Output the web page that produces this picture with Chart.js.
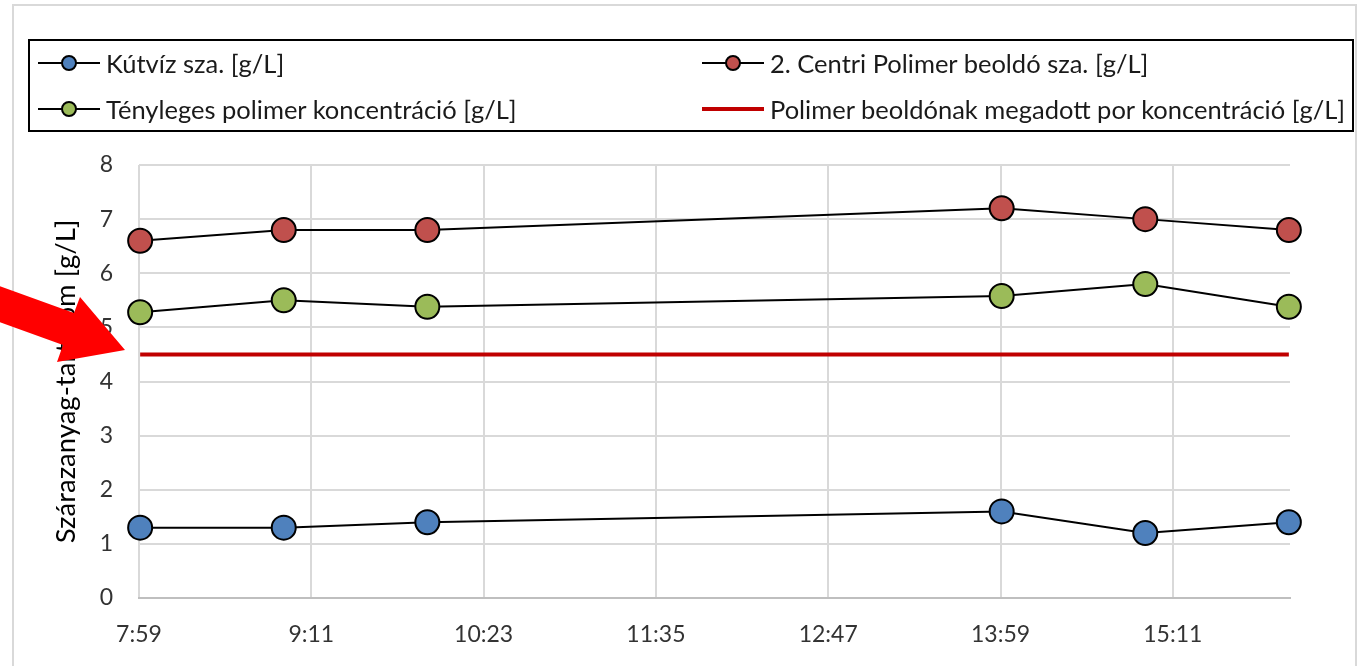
<!DOCTYPE html>
<html>
<head>
<meta charset="utf-8">
<script src="https://cdn.jsdelivr.net/npm/chart.js@4.4.1/dist/chart.umd.min.js"></script>
<style>
    html, body { margin: 0; padding: 0; background: #fff; }
    body { width: 1363px; height: 666px; position: relative; overflow: hidden; font-family: Lato, "Open Sans", sans-serif; }
    #frame { position: absolute; left: 12px; top: 4px; width: 1345px; height: 720px; border: 2px solid #d9d9d9; box-sizing: border-box; }
    #wrap { position: absolute; left: 0; top: 0; width: 1363px; height: 666px; }
    #legend { position: absolute; left: 28px; top: 39px; width: 1326px; height: 93px; border: 2px solid #000; box-sizing: border-box; }
    .item { position: absolute; height: 30px; display: flex; align-items: center; font-size: 25.5px; color: #1a1a1a; white-space: nowrap; }
    .marker { position: relative; width: 62px; height: 30px; margin-right: 6px; flex: none; }
    .marker .ln { position: absolute; left: 0; right: 0; top: 14px; height: 2px; background: #000; }
    .marker .ln.thick { top: 13px; height: 4px; background: #c00000; }
    .marker .dot { position: absolute; left: 23px; top: 7px; width: 12px; height: 12px; border: 2px solid #000; border-radius: 50%; }
    #arrow { position: absolute; left: 0; top: 0; }
</style>
</head>
<body>
<div id="frame"></div>
<div id="wrap"><canvas id="chart"></canvas></div>
<div id="legend"></div>
<svg id="arrow" width="200" height="420">
    <polygon points="-20,279 74,313 80,297 125,350 57,362 63,345 -31,311" fill="#ff0000"/>
</svg>
<script>
// mintavétel időpontjai
const times = ["8:00", "9:00", "10:00", "14:00", "15:00", "16:00"];

const kutviz = [1.3, 1.3, 1.4, 1.6, 1.2, 1.4];
const centri = [6.6, 6.8, 6.8, 7.2, 7.0, 6.8];
const tenyleges = [5.28, 5.5, 5.38, 5.58, 5.8, 5.38];
const megadott = [4.5, 4.5, 4.5, 4.5, 4.5, 4.5];

const seriesNames = [
    "Kútvíz sza. [g/L]",
    "2. Centri Polimer beoldó sza. [g/L]",
    "Tényleges polimer koncentráció [g/L]",
    "Polimer beoldónak megadott por koncentráció [g/L]"
];

const xTickLabels = ["7:59", "9:11", "10:23", "11:35", "12:47", "13:59", "15:11"];
const yTickLabels = ["0", "1", "2", "3", "4", "5", "6", "7", "8"];

// Excel-féle napi tört tengelyhatárok (0.333 - 0.667 nap), 72 perces lépés
const xMin = 0.333 * 1440;
const xMax = 0.667 * 1440;
const xStep = 72;

function toMinutes(t) {
    const [h, m] = t.split(":").map(Number);
    return h * 60 + m;
}

function points(values) {
    return values.map((v, i) => ({ x: toMinutes(times[i]), y: v }));
}

const colors = { blue: "#4f81bd", red: "#c0504d", green: "#9bbb59", target: "#c00000" };

function markerSeries(label, values, fill) {
    return {
        label: label,
        data: points(values),
        borderColor: "#000",
        borderWidth: 2,
        pointRadius: 12,
        pointHoverRadius: 12,
        pointBackgroundColor: fill,
        pointBorderColor: "#000",
        pointBorderWidth: 2,
        tension: 0,
        clip: false
    };
}

const datasets = [
    markerSeries(seriesNames[0], kutviz, colors.blue),
    markerSeries(seriesNames[1], centri, colors.red),
    markerSeries(seriesNames[2], tenyleges, colors.green),
    {
        label: seriesNames[3],
        data: points(megadott),
        borderColor: colors.target,
        borderWidth: 4,
        pointRadius: 0,
        tension: 0,
        clip: false
    }
];

// HTML jelmagyarázat két oszlopban
const legendPos = [
    { left: 8, top: 7, fill: colors.blue },
    { left: 672, top: 7, fill: colors.red },
    { left: 8, top: 53, fill: colors.green },
    { left: 672, top: 53, line: true }
];
const legend = document.getElementById("legend");
seriesNames.forEach((name, i) => {
    const p = legendPos[i];
    const item = document.createElement("div");
    item.className = "item";
    item.style.left = p.left + "px";
    item.style.top = p.top + "px";
    const marker = p.line
        ? '<div class="marker"><div class="ln thick"></div></div>'
        : '<div class="marker"><div class="ln"></div><div class="dot" style="background:' + p.fill + '"></div></div>';
    item.innerHTML = marker + "<span></span>";
    item.querySelector("span").textContent = name;
    legend.appendChild(item);
});

const tickFont = { family: "Lato, 'Open Sans', sans-serif", size: 23 };

new Chart(document.getElementById("chart"), {
    type: "line",
    data: { datasets: datasets },
    options: {
        responsive: true,
        maintainAspectRatio: false,
        animation: false,
        layout: { padding: { top: 165, right: 73, left: 0, bottom: 0 } },
        plugins: {
            legend: { display: false },
            tooltip: { enabled: false }
        },
        scales: {
            x: {
                type: "linear",
                min: xMin,
                max: xMax,
                afterBuildTicks: (scale) => {
                    scale.ticks = xTickLabels.map((_, i) => ({ value: xMin + i * xStep }));
                },
                afterFit: (scale) => { scale.height = 68; },
                grid: { color: "#d9d9d9", lineWidth: 2, drawTicks: false },
                border: { color: "#bfbfbf", width: 2 },
                ticks: {
                    padding: 23,
                    color: "#333333",
                    font: tickFont,
                    maxRotation: 0,
                    autoSkip: false,
                    callback: (value, index) => xTickLabels[index]
                }
            },
            y: {
                min: 0,
                max: 8,
                afterBuildTicks: (scale) => {
                    scale.ticks = yTickLabels.map(v => ({ value: Number(v) }));
                },
                afterFit: (scale) => { scale.width = 139; },
                grid: { color: "#d9d9d9", lineWidth: 2, drawTicks: false },
                border: { display: false },
                ticks: {
                    padding: 26,
                    color: "#333333",
                    font: tickFont,
                    callback: (value, index) => yTickLabels[index]
                },
                title: {
                    display: true,
                    text: "Szárazanyag-tartalom [g/L]",
                    color: "#000",
                    font: { family: "Lato, 'Open Sans', sans-serif", size: 27.5 },
                    padding: { top: 50, bottom: 0 }
                }
            }
        }
    }
});
</script>
</body>
</html>
